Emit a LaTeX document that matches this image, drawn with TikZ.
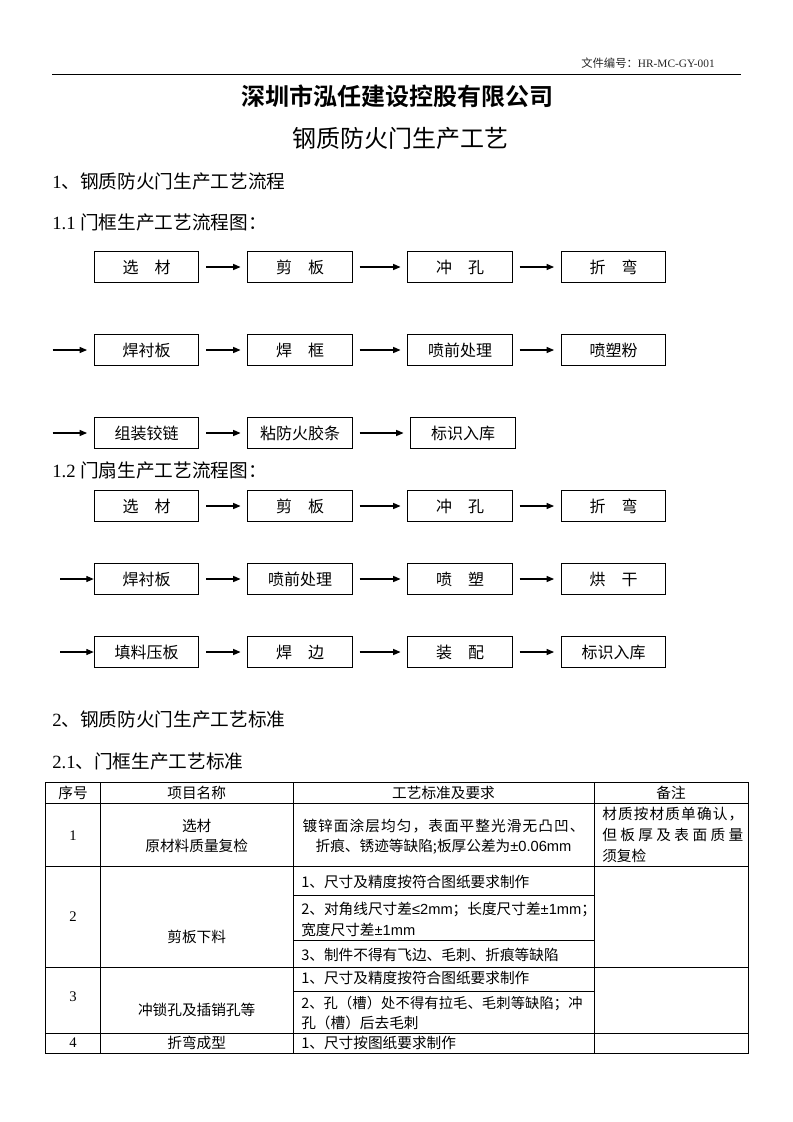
\documentclass[tikz,border=0pt]{standalone}
\usepackage{fontspec}
\setmainfont{Liberation Serif}
\newfontfamily\cjk{Noto Sans CJK SC}[BoldFont={Noto Sans CJK SC Bold}]
\newfontfamily\lat{Liberation Sans}
\usetikzlibrary{arrows.meta}
\newcommand\fs[1]{\fontsize{#1}{#1}\selectfont}
\makeatletter
\def\jst@end{\relax}
\newcommand\jst[2]{\makebox[#1][s]{\jst@a#2\jst@end}}
\def\jst@a#1{#1\@ifnextchar\jst@end{\@gobble}{\hfil\jst@a}}
\makeatother
\begin{document}
\begin{tikzpicture}[x=0.75pt,y=-0.75pt,
  fb/.style={draw, line width=0.8pt, minimum width=78.4pt, minimum height=23.25pt, inner sep=0pt, font=\cjk\fs{12}},
  arr/.style={-{Triangle[length=5.5pt,width=4.5pt]}, line width=0.8pt, shorten <=5.2pt, shorten >=5pt},
  hd/.style={anchor=west, inner sep=0pt, font=\cjk\fs{14}},
  tt/.style={inner sep=0pt, font=\cjk\fs{11}},
  tl/.style={tt, anchor=west},
  grid/.style={line width=0.6pt}]
\useasboundingbox (0,0) rectangle (793,1122);

% header
\node[anchor=east, inner sep=0pt, text=black!85] (hdr) at (715,63) {\fs{8.5}\cjk 文件编号：\rmfamily HR-MC-GY-001};
\draw[line width=0.7pt] (52,74) -- (741,74);
\node[inner sep=0pt] (title) at (397,96) {\fs{18}\cjk\bfseries 深圳市泓任建设控股有限公司};
\node[inner sep=0pt] (sub) at (400,138) {\fs{18}\cjk 钢质防火门生产工艺};

% headings
\node[hd] (h1) at (52,181) {\rmfamily 1\cjk 、钢质防火门生产工艺流程};
\node[hd] (h11) at (52,222) {\rmfamily 1.1 \cjk 门框生产工艺流程图：};
\node[hd] (h12) at (52,470) {\rmfamily 1.2 \cjk 门扇生产工艺流程图：};
\node[hd] (h2) at (52,719) {\rmfamily 2\cjk 、钢质防火门生产工艺标准};
\node[hd] (h21) at (52,761) {\rmfamily 2.1\cjk 、门框生产工艺标准};

% flowchart 1
\node[fb] (a1) at (146.5,267) {选\hspace{1em}材};
\node[fb] (a2) at (300,267) {剪\hspace{1em}板};
\node[fb] (a3) at (460,267) {冲\hspace{1em}孔};
\node[fb] (a4) at (613.5,267) {折\hspace{1em}弯};
\draw[arr] (a1) -- (a2);
\draw[arr] (a2) -- (a3);
\draw[arr] (a3) -- (a4);

\node[fb] (a5) at (146.5,350) {焊衬板};
\node[fb] (a6) at (300,350) {焊\hspace{1em}框};
\node[fb] (a7) at (460,350) {喷前处理};
\node[fb] (a8) at (613.5,350) {喷塑粉};
\coordinate (s5) at (52.5,350);
\draw[arr, shorten <=0pt] (s5) -- (a5);
\draw[arr] (a5) -- (a6);
\draw[arr] (a6) -- (a7);
\draw[arr] (a7) -- (a8);

\node[fb] (a9) at (146.5,433) {组装铰链};
\node[fb] (a10) at (300,433) {粘防火胶条};
\node[fb] (a11) at (463,433) {标识入库};
\coordinate (s9) at (52.5,433);
\draw[arr, shorten <=0pt] (s9) -- (a9);
\draw[arr] (a9) -- (a10);
\draw[arr] (a10) -- (a11);

% flowchart 2
\node[fb] (b1) at (146.5,506) {选\hspace{1em}材};
\node[fb] (b2) at (300,506) {剪\hspace{1em}板};
\node[fb] (b3) at (460,506) {冲\hspace{1em}孔};
\node[fb] (b4) at (613.5,506) {折\hspace{1em}弯};
\draw[arr] (b1) -- (b2);
\draw[arr] (b2) -- (b3);
\draw[arr] (b3) -- (b4);

\node[fb] (b5) at (146.5,579) {焊衬板};
\node[fb] (b6) at (300,579) {喷前处理};
\node[fb] (b7) at (460,579) {喷\hspace{1em}塑};
\node[fb] (b8) at (613.5,579) {烘\hspace{1em}干};
\coordinate (s15) at (60,579);
\draw[arr, shorten <=0pt, shorten >=0pt] (s15) -- (b5);
\draw[arr] (b5) -- (b6);
\draw[arr] (b6) -- (b7);
\draw[arr] (b7) -- (b8);

\node[fb] (b9) at (146.5,652) {填料压板};
\node[fb] (b10) at (300,652) {焊\hspace{1em}边};
\node[fb] (b11) at (460,652) {装\hspace{1em}配};
\node[fb] (b12) at (613.5,652) {标识入库};
\coordinate (s19) at (60,652);
\draw[arr, shorten <=0pt, shorten >=0pt] (s19) -- (b9);
\draw[arr] (b9) -- (b10);
\draw[arr] (b10) -- (b11);
\draw[arr] (b11) -- (b12);

% table grid
\draw[grid] (45.5,782) rectangle (748.5,1053);
\foreach \y in {803.5,866,967,1033} \draw[grid] (45.5,\y) -- (748.5,\y);
\foreach \y in {895,940,991} \draw[grid] (293,\y) -- (594,\y);
\foreach \x in {100.5,293,594} \draw[grid] (\x,782) -- (\x,1053);

% header row
\node[tt] (th1) at (73,793) {序号};
\node[tt] (th2) at (196.7,793) {项目名称};
\node[tt] (th3) at (443.5,793) {工艺标准及要求};
\node[tt] (th4) at (671,793) {备注};

% row 1
\node[tt] (r1n) at (73,836) {\rmfamily 1};
\node[tt] (r1a) at (196.7,826) {选材};
\node[tt] (r1b) at (196.7,846) {原材料质量复检};
\node[tt] (r1c) at (443.5,826) {\jst{211.5pt}{镀锌面涂层均匀，表面平整光滑无凸凹、}};
\node[tt] (r1d) at (443.5,847) {折痕、锈迹等缺陷;板厚公差为{\lat ±0.06mm}};
\node[tl] (r1e) at (602,814) {\jst{105.75pt}{材质按材质单确认，}};
\node[tl] (r1f) at (602,835) {\jst{105.75pt}{但板厚及表面质量}};
\node[tl] (r1g) at (602,856) {须复检};

% row 2
\node[tt] (r2n) at (73,917) {\rmfamily 2};
\node[tt] (r2a) at (196.7,937) {剪板下料};
\node[tl] (r2b) at (301,882) {1、尺寸及精度按符合图纸要求制作};
\node[tl] (r2c) at (301,909) {2、对角线尺寸差{\lat ≤2mm}；长度尺寸差{\lat ±1mm}；};
\node[tl] (r2d) at (301,930) {宽度尺寸差{\lat ±1mm}};
\node[tl] (r2e) at (301,955) {3、制件不得有飞边、毛刺、折痕等缺陷};

% row 3
\node[tt] (r3n) at (73,997) {\rmfamily 3};
\node[tt] (r3a) at (196.7,1010) {冲锁孔及插销孔等};
\node[tl] (r3b) at (301,978) {1、尺寸及精度按符合图纸要求制作};
\node[tl] (r3c) at (301,1004) {\fs{10.7}\jst{211pt}{2、孔（槽）处不得有拉毛、毛刺等缺陷；冲}};
\node[tl] (r3d) at (301,1023) {孔（槽）后去毛刺};

% row 4
\node[tt] (r4n) at (73,1043) {\rmfamily 4};
\node[tt] (r4a) at (196.7,1043) {折弯成型};
\node[tl] (r4b) at (301,1043) {1、尺寸按图纸要求制作};
\end{tikzpicture}
\end{document}
